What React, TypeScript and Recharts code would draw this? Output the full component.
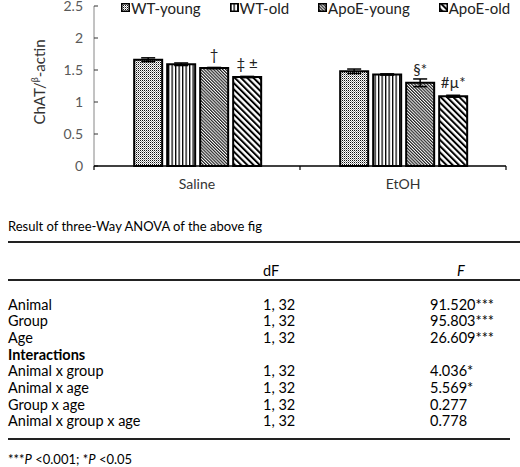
import React from "react";
import { BarChart, Bar, XAxis, YAxis, ErrorBar, LabelList } from "recharts";

const FONT = "Lato, 'Open Sans', sans-serif";

// chart data
const categories = ["Saline", "EtOH"];
const wtYoung = [1.66, 1.48];
const wtOld = [1.59, 1.43];
const apoeYoung = [1.53, 1.3];
const apoeOld = [1.39, 1.09];

const wtYoungErr = [0.03, 0.035];
const wtOldErr = [0.02, 0.01];
const apoeYoungErr = [0.01, 0.06];
const apoeOldErr = [0.01, 0.015];

const apoeYoungNote = ["†", "§*"];
const apoeOldNote = ["‡ ±", "#µ*"];

const yTicks = [0, 0.5, 1, 1.5, 2, 2.5];

const seriesNames = ["WT-young", "WT-old", "ApoE-young", "ApoE-old"];
const patternKeys = ["dots", "vlines", "fine", "wide"];

// table data
const tableTitle = "Result of three-Way ANOVA of the above fig";
const effectNames = [
  "Animal",
  "Group",
  "Age",
  "Interactions",
  "Animal x group",
  "Animal x age",
  "Group x age",
  "Animal x group x age",
];
const effectDf = ["1, 32", "1, 32", "1, 32", "", "1, 32", "1, 32", "1, 32", "1, 32"];
const effectF = ["91.520***", "95.803***", "26.609***", "", "4.036*", "5.569*", "0.277", "0.778"];

const chartData = categories.map((c, i) => ({
  category: c,
  wtYoung: wtYoung[i],
  wtOld: wtOld[i],
  apoeYoung: apoeYoung[i],
  apoeOld: apoeOld[i],
  wtYoungErr: wtYoungErr[i],
  wtOldErr: wtOldErr[i],
  apoeYoungErr: apoeYoungErr[i],
  apoeOldErr: apoeOldErr[i],
  apoeYoungNote: apoeYoungNote[i],
  apoeOldNote: apoeOldNote[i],
}));

function Patterns({ prefix }: { prefix: string }) {
  return (
    <defs>
      <pattern id={`${prefix}dots`} width={2} height={2} patternUnits="userSpaceOnUse">
        <rect width={2} height={2} fill="#fff" />
        <rect x={0} y={0} width={1} height={1} fill="#111" />
        <rect x={1} y={1} width={1} height={1} fill="#999" />
      </pattern>
      <pattern id={`${prefix}vlines`} width={3.5} height={10} patternUnits="userSpaceOnUse">
        <rect width={3.5} height={10} fill="#fff" />
        <rect x={0} y={0} width={1.3} height={10} fill="#000" />
      </pattern>
      <pattern
        id={`${prefix}fine`}
        width={2.2}
        height={10}
        patternUnits="userSpaceOnUse"
        patternTransform="rotate(-45)"
      >
        <rect width={2.2} height={10} fill="#fff" />
        <rect x={0} y={0} width={1.2} height={10} fill="#222" />
      </pattern>
      <pattern
        id={`${prefix}wide`}
        width={4.4}
        height={10}
        patternUnits="userSpaceOnUse"
        patternTransform="rotate(-45)"
      >
        <rect width={4.4} height={10} fill="#fff" />
        <rect x={0} y={0} width={2} height={10} fill="#000" />
      </pattern>
    </defs>
  );
}

function NoteLabel(props: any) {
  const { x, y, width, value } = props;
  if (!value) return null;
  return (
    <text
      x={x + width / 2}
      y={y - 8}
      textAnchor="middle"
      fontSize={15}
      fontFamily={FONT}
      fill="#222"
    >
      {value}
    </text>
  );
}

function CategoryTick(props: any) {
  const { x, y, payload, width, visibleTicksCount, index } = props;
  const half = width && visibleTicksCount ? width / visibleTicksCount / 2 : 0;
  const last = index === visibleTicksCount - 1;
  return (
    <g>
      <line x1={x - half} x2={x - half} y1={y} y2={y + 4} stroke="#000" strokeWidth={1.2} />
      {last && (
        <line x1={x + half} x2={x + half} y1={y} y2={y + 4} stroke="#000" strokeWidth={1.2} />
      )}
      <text x={x} y={y + 23} textAnchor="middle" fontSize={14} fontFamily={FONT} fill="#333">
        {payload.value}
      </text>
    </g>
  );
}

function YLabel(props: any) {
  const { viewBox } = props;
  const cx = viewBox.x + 39;
  const cy = viewBox.y + viewBox.height / 2 - 4;
  return (
    <text
      x={cx}
      y={cy}
      transform={`rotate(-90, ${cx}, ${cy})`}
      textAnchor="middle"
      dominantBaseline="central"
      fontSize={15}
      fontFamily={FONT}
      fill="#333"
    >
      ChAT/
      <tspan fontSize={9} dy={-5}>
        β
      </tspan>
      <tspan dy={5}>-actin</tspan>
    </text>
  );
}

function Legend() {
  return (
    <div
      style={{
        position: "absolute",
        left: 121,
        top: 0,
        height: 15,
        display: "flex",
        alignItems: "center",
        gap: 29,
        fontFamily: FONT,
        fontSize: 15,
        color: "#222",
        whiteSpace: "nowrap",
      }}
    >
      {seriesNames.map((name, i) => (
        <div key={name} style={{ display: "flex", alignItems: "center" }}>
          <svg width={9} height={9} style={{ marginRight: 1 }}>
            <Patterns prefix={`lg${i}-`} />
            <rect
              x={0.75}
              y={0.75}
              width={7.5}
              height={7.5}
              fill={`url(#lg${i}-${patternKeys[i]})`}
              stroke="#000"
              strokeWidth={1.5}
            />
          </svg>
          <span>{name}</span>
        </div>
      ))}
    </div>
  );
}

const rule = (top: number, width: number) => (
  <div style={{ position: "absolute", left: 8, top, width, height: 2, background: "#222" }} />
);

function AnovaTable() {
  const rowTop = 295.5;
  const rowH = 16.7;
  const cell: React.CSSProperties = {
    position: "absolute",
    fontFamily: FONT,
    fontSize: 14.5,
    lineHeight: "17px",
    color: "#000",
    whiteSpace: "nowrap",
  };
  return (
    <>
      <div style={{ ...cell, left: 8, top: 218, fontSize: 13 }}>{tableTitle}</div>
      {rule(241, 512)}
      <div style={{ ...cell, left: 263, top: 261.5 }}>dF</div>
      <div style={{ ...cell, left: 457, top: 261.5, fontStyle: "italic" }}>F</div>
      {rule(279, 512)}
      {effectNames.map((name, i) => (
        <React.Fragment key={name}>
          <div
            style={{
              ...cell,
              left: 8,
              top: rowTop + i * rowH,
              fontWeight: name === "Interactions" ? 700 : 400,
            }}
          >
            {name}
          </div>
          <div style={{ ...cell, left: 263, top: rowTop + i * rowH }}>{effectDf[i]}</div>
          <div style={{ ...cell, left: 430, top: rowTop + i * rowH }}>{effectF[i]}</div>
        </React.Fragment>
      ))}
      {rule(438, 502)}
      <div style={{ ...cell, left: 8, top: 452, fontSize: 13, lineHeight: "14px" }}>
        ***<i>P</i> &lt;0.001; *<i>P</i> &lt;0.05
      </div>
    </>
  );
}

export default function App() {
  return (
    <div
      style={{
        position: "absolute",
        left: 0,
        top: 0,
        width: 520,
        height: 467,
        background: "#fff",
        overflow: "hidden",
      }}
    >
      <BarChart
        width={520}
        height={200}
        data={chartData}
        margin={{ top: 6, right: 14, left: 0, bottom: 4 }}
        barCategoryGap="19.5%"
        barGap={5}
      >
        <Patterns prefix="bar-" />
        <YAxis
          width={94}
          domain={[0, 2.5]}
          ticks={yTicks}
          interval={0}
          tickSize={-4}
          tickMargin={15}
          axisLine={{ stroke: "#868686" }}
          tickLine={{ stroke: "#333" }}
          tick={{ fill: "#595959", fontSize: 14, fontFamily: FONT }}
          label={<YLabel />}
        />
        <XAxis
          dataKey="category"
          height={30}
          interval={0}
          tickSize={0}
          tickMargin={0}
          tickLine={false}
          axisLine={{ stroke: "#000", strokeWidth: 1.5 }}
          tick={<CategoryTick />}
        />
        <Bar dataKey="wtYoung" name="WT-young" fill="url(#bar-dots)" stroke="#000" strokeWidth={2} isAnimationActive={false}>
          <ErrorBar dataKey="wtYoungErr" width={7} stroke="#000" strokeWidth={1.5} />
        </Bar>
        <Bar dataKey="wtOld" name="WT-old" fill="url(#bar-vlines)" stroke="#000" strokeWidth={2} isAnimationActive={false}>
          <ErrorBar dataKey="wtOldErr" width={7} stroke="#000" strokeWidth={1.5} />
        </Bar>
        <Bar dataKey="apoeYoung" name="ApoE-young" fill="url(#bar-fine)" stroke="#000" strokeWidth={2} isAnimationActive={false}>
          <ErrorBar dataKey="apoeYoungErr" width={7} stroke="#000" strokeWidth={1.5} />
          <LabelList dataKey="apoeYoungNote" content={<NoteLabel />} />
        </Bar>
        <Bar dataKey="apoeOld" name="ApoE-old" fill="url(#bar-wide)" stroke="#000" strokeWidth={2} isAnimationActive={false}>
          <ErrorBar dataKey="apoeOldErr" width={7} stroke="#000" strokeWidth={1.5} />
          <LabelList dataKey="apoeOldNote" content={<NoteLabel />} />
        </Bar>
      </BarChart>
      <Legend />
      <AnovaTable />
    </div>
  );
}
